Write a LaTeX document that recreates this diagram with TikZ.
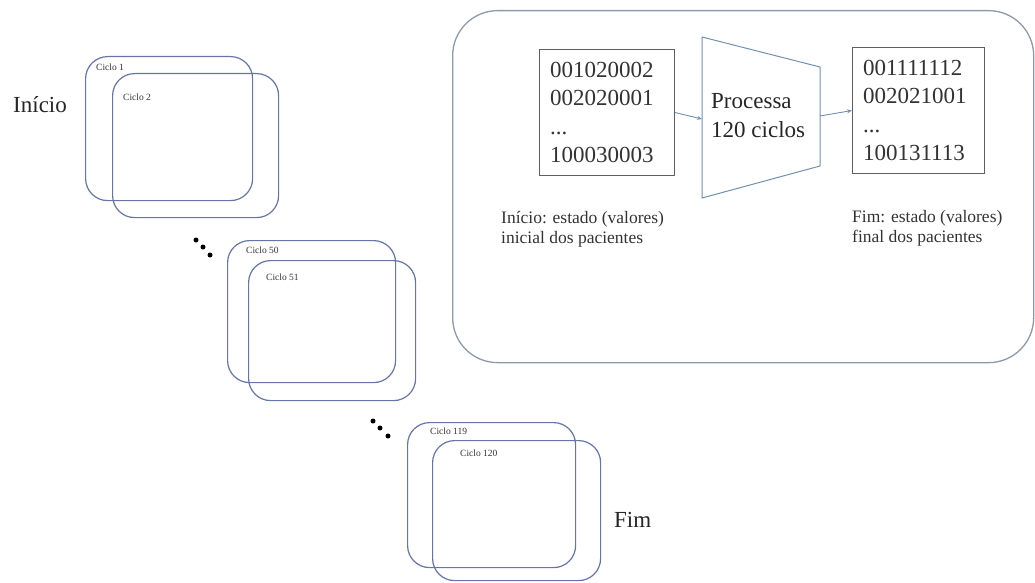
\documentclass[tikz,border=0pt]{standalone}
\usepackage{fontspec}
\setmainfont{Liberation Serif}
\usetikzlibrary{arrows.meta}
\definecolor{cyccol}{HTML}{6575A5}
\definecolor{panelcol}{HTML}{8C9AAA}
\definecolor{trapcol}{HTML}{7190B4}
\definecolor{boxcol}{HTML}{5E5E5E}
\tikzset{
  cyc/.style={draw=cyccol, line width=1.2pt, rounded corners=22pt, anchor=north west, inner sep=0pt},
  cyclabel/.style={anchor=base west, inner sep=0pt, font=\fontsize{9.5}{11}\selectfont, text=black!80},
  bigtext/.style={anchor=base west, inner sep=0pt, font=\fontsize{23}{28}\selectfont, text=black!85},
  databox/.style={draw=boxcol, line width=1pt, align=left, inner xsep=10.5pt, inner ysep=0pt, font=\fontsize{23}{28.3}\selectfont, text=black!80},
  caption/.style={anchor=base west, inner sep=0pt, align=left, font=\fontsize{17.5}{20}\selectfont, text=black!80},
  arr/.style={draw=trapcol, line width=0.9pt, -{Stealth[length=5pt,width=4pt]}},
  dotstyle/.style={fill=black, circle, inner sep=0pt, minimum size=5pt}
}
\begin{document}
\begin{tikzpicture}[x=1pt,y=-1pt]
\useasboundingbox (0,0) rectangle (1035,583);
% left cycles
\node[cyc, minimum width=167pt, minimum height=144pt] (c1) at (85,56) {};
\node[cyc, minimum width=166pt, minimum height=144pt] (c2) at (112,73) {};
\node[cyclabel] (l1) at (96,71) {Ciclo 1};
\node[cyclabel] (l2) at (123,101) {Ciclo 2};
\node[cyc, minimum width=168pt, minimum height=142pt] (c50) at (227,240) {};
\node[cyc, minimum width=167pt, minimum height=140pt] (c51) at (248,260) {};
\node[cyclabel] (l50) at (246,253) {Ciclo 50};
\node[cyclabel] (l51) at (266,280) {Ciclo 51};
\node[cyc, minimum width=168pt, minimum height=145pt] (c119) at (407,422) {};
\node[cyc, minimum width=168pt, minimum height=140pt] (c120) at (432,440) {};
\node[cyclabel] (l119) at (430,434) {Ciclo 119};
\node[cyclabel] (l120) at (460,456) {Ciclo 120};
\node[bigtext] (inicio) at (13,113) {Início};
\node[bigtext] (fim) at (614,527) {Fim};
% dots
\node[dotstyle] (d1) at (196,240) {};
\node[dotstyle] (d2) at (203,247) {};
\node[dotstyle] (d3) at (210,255) {};
\node[dotstyle] (d4) at (373,421) {};
\node[dotstyle] (d5) at (380,428) {};
\node[dotstyle] (d6) at (388,436) {};
% right panel
\node[draw=panelcol, fill=white, line width=1.3pt, rounded corners=45pt, anchor=north west, minimum width=581pt, minimum height=352pt, inner sep=0pt] (panel) at (452,10) {};
\node[databox, text width=114pt, minimum height=126pt, anchor=north west] (L) at (539,49) {001020002\\002020001\\...\\100030003};
\node[databox, text width=111pt, minimum height=126pt, anchor=north west] (R) at (852,47) {001111112\\002021001\\...\\100131113};
\draw[draw=trapcol, line width=1pt] (702,37) coordinate (tA) -- (820,67) coordinate (tB) -- (820,166) coordinate (tC) -- (702,198) coordinate (tD) -- cycle;
\coordinate (tin) at (702,119);
\coordinate (tout) at (820,116);
\node[bigtext] (p1) at (711,109) {Processa};
\node[bigtext] (p2) at (711,138) {120 ciclos};
\draw[arr] (L.east) -- (tin);
\draw[arr] (tout) -- (R.west);
\node[caption] (capL) at (501,243) {Início: estado (valores)\\inicial dos pacientes};
\node[caption] (capR) at (852,242) {Fim: estado (valores)\\final dos pacientes};
\end{tikzpicture}
\end{document}
